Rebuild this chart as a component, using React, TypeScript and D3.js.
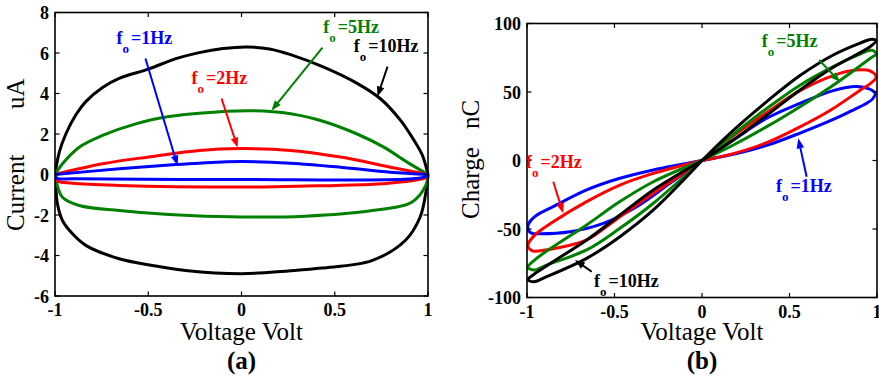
import React from 'react';
import * as d3 from 'd3';

type Pt = [number, number];

const FONT = '"Liberation Serif", "Times New Roman", Times, serif';

// ---- panel (a): current (uA) against voltage (V), upper and lower branches ----
const iv10HzUpper: Pt[] = [[-1, 0], [-0.977, 1.1], [-0.942, 2.0], [-0.888, 2.95], [-0.835, 3.6], [-0.745, 4.3], [-0.656, 4.75], [-0.5, 5.2], [-0.352, 5.72], [-0.227, 6.02], [-0.1, 6.22], [0.03, 6.3], [0.15, 6.2], [0.263, 5.92], [0.441, 5.3], [0.62, 4.5], [0.745, 3.74], [0.853, 2.67], [0.924, 1.7], [0.97, 0.95], [1, 0]];
const iv10HzLower: Pt[] = [[-1, 0], [-0.995, -0.7], [-0.987, -1.45], [-0.96, -2.27], [-0.906, -2.93], [-0.835, -3.5], [-0.656, -4.16], [-0.477, -4.49], [-0.299, -4.74], [0, -4.9], [0.25, -4.76], [0.43, -4.62], [0.699, -4.25], [0.878, -3.26], [0.958, -2.1], [0.99, -0.8], [1, 0]];
const iv5HzUpper: Pt[] = [[-1, 0], [-0.96, 0.53], [-0.87, 1.35], [-0.745, 1.93], [-0.567, 2.5], [-0.388, 2.86], [-0.227, 3.03], [0.05, 3.15], [0.263, 3.0], [0.441, 2.62], [0.62, 2.0], [0.763, 1.35], [0.888, 0.61], [1, 0]];
const iv5HzLower: Pt[] = [[-1, 0], [-0.99, -0.46], [-0.96, -1.12], [-0.87, -1.53], [-0.656, -1.78], [-0.388, -1.98], [0, -2.1], [0.34, -2.06], [0.7, -1.78], [0.913, -1.37], [0.99, -0.5], [1, 0]];
const iv2HzUpper: Pt[] = [[-1, 0], [-0.745, 0.53], [-0.477, 0.89], [-0.227, 1.19], [0, 1.28], [0.263, 1.19], [0.531, 0.86], [0.799, 0.36], [1, 0]];
const iv2HzLower: Pt[] = [[-1, 0], [-0.99, -0.3], [-0.906, -0.43], [-0.656, -0.54], [0, -0.62], [0.3, -0.58], [0.79, -0.43], [0.99, -0.15], [1, 0]];
const iv1HzUpper: Pt[] = [[-1, 0], [-0.656, 0.28], [-0.352, 0.49], [-0.227, 0.56], [0, 0.64], [0.263, 0.56], [0.531, 0.36], [0.799, 0.11], [1, 0]];
const iv1HzLower: Pt[] = [[-1, 0], [-0.99, -0.18], [-0.9, -0.21], [0, -0.25], [0.9, -0.22], [0.99, -0.1], [1, 0]];

// ---- panel (b): charge (nC) against voltage (V), one lobe per quadrant ----
const qv10HzRight: Pt[] = [[0, 0], [0.179, 22], [0.37, 43], [0.56, 62], [0.75, 77], [0.9, 85.5], [0.97, 88.5], [0.995, 87.5], [0.96, 83], [0.75, 68], [0.56, 51.5], [0.37, 33], [0.179, 15], [0, 0]];
const qv10HzLeft: Pt[] = [[0, 0], [-0.278, -21.5], [-0.469, -39.8], [-0.659, -58], [-0.85, -73.8], [-0.96, -83], [-0.995, -87], [-0.96, -88.5], [-0.888, -84.8], [-0.659, -71.4], [-0.469, -55.6], [-0.278, -36.1], [0, 0]];
const qv5HzRight: Pt[] = [[0, 0], [0.179, 19], [0.37, 38], [0.56, 55], [0.75, 68.5], [0.9, 77.5], [0.97, 80.5], [0.995, 78], [0.96, 74.5], [0.75, 55], [0.56, 39.3], [0.37, 24.7], [0.179, 11.3], [0, 0]];
const qv5HzLeft: Pt[] = [[0, 0], [-0.278, -15.5], [-0.469, -30], [-0.659, -47], [-0.85, -62.9], [-0.96, -73], [-0.995, -78], [-0.96, -80], [-0.888, -76.3], [-0.659, -65.3], [-0.469, -49.5], [-0.278, -31.2], [0, 0]];
const qv2HzRight: Pt[] = [[0, 0], [0.179, 18], [0.37, 35], [0.56, 51], [0.75, 62], [0.88, 66], [0.96, 65.5], [0.995, 61], [0.96, 56], [0.9, 51], [0.75, 38], [0.56, 24.5], [0.37, 13], [0.179, 5], [0, 0]];
const qv2HzLeft: Pt[] = [[0, 0], [-0.278, -9.4], [-0.469, -17.9], [-0.659, -30], [-0.85, -44.7], [-0.96, -55], [-0.995, -62], [-0.97, -66], [-0.926, -65.8], [-0.793, -62.9], [-0.659, -58], [-0.469, -41], [-0.278, -24], [0, 0]];
const qv1HzRight: Pt[] = [[0, 0], [0.179, 15], [0.37, 30.8], [0.56, 41.7], [0.75, 51], [0.88, 54], [0.96, 52], [0.99, 49], [0.975, 45], [0.93, 41], [0.85, 36], [0.75, 30], [0.56, 20], [0.37, 11], [0.179, 4.5], [0, 0]];
const qv1HzLeft: Pt[] = [[0, 0], [-0.278, -6.9], [-0.469, -13], [-0.659, -21.5], [-0.85, -33.7], [-0.945, -40], [-0.99, -46], [-0.995, -50], [-0.975, -53], [-0.926, -53.5], [-0.754, -52], [-0.564, -45.9], [-0.373, -33.7], [-0.183, -16.7], [0, 0]];

// ---- ticks ----
const voltTicks = [-1, -0.5, 0, 0.5, 1];
const currentTicks = [-6, -4, -2, 0, 2, 4, 6, 8];
const chargeTicks = [-100, -50, 0, 50, 100];

const BLUE = '#0000ff';
const RED = '#ff0000';
const GREEN = '#008000';
const BLACK = '#000000';

type Series = { label: string; color: string; paths: Pt[][] };

const ivSeries: Series[] = [
  { label: '=10Hz', color: BLACK, paths: [iv10HzUpper, iv10HzLower] },
  { label: '=5Hz', color: GREEN, paths: [iv5HzUpper, iv5HzLower] },
  { label: '=2Hz', color: RED, paths: [iv2HzUpper, iv2HzLower] },
  { label: '=1Hz', color: BLUE, paths: [iv1HzUpper, iv1HzLower] },
];

const qvSeries: Series[] = [
  { label: '=1Hz', color: BLUE, paths: [qv1HzRight, qv1HzLeft] },
  { label: '=2Hz', color: RED, paths: [qv2HzRight, qv2HzLeft] },
  { label: '=5Hz', color: GREEN, paths: [qv5HzRight, qv5HzLeft] },
  { label: '=10Hz', color: BLACK, paths: [qv10HzRight, qv10HzLeft] },
];

// annotation anchors in data units: text position, arrow tail, arrow head
type Note = { text: string; color: string; at: Pt; tail: Pt; head: Pt };

const ivNotes: Note[] = [
  { text: '=1Hz', color: BLUE, at: [-0.67, 6.42], tail: [-0.515, 5.73], head: [-0.343, 0.44] },
  { text: '=2Hz', color: RED, at: [-0.268, 4.48], tail: [-0.107, 3.75], head: [-0.021, 1.33] },
  { text: '=5Hz', color: GREEN, at: [0.438, 6.98], tail: [0.434, 6.27], head: [0.161, 3.16] },
  { text: '=10Hz', color: BLACK, at: [0.602, 6.04], tail: [0.783, 5.33], head: [0.729, 3.85] },
];

const qvNotes: Note[] = [
  { text: '=5Hz', color: GREEN, at: [0.341, 82.5], tail: [0.669, 73.4], head: [0.789, 57.3] },
  { text: '=1Hz', color: BLUE, at: [0.423, -22.8], tail: [0.598, -11.8], head: [0.55, 16.2] },
  { text: '=2Hz', color: RED, at: [-1.006, -5.7], tail: [-0.85, -15.5], head: [-0.793, -38.5] },
  { text: '=10Hz', color: BLACK, at: [-0.617, -92.1], tail: [-0.63, -81.2], head: [-0.726, -72.6] },
];

type Scale = d3.ScaleLinear<number, number>;

function Arrow({ x1, y1, x2, y2, color }: { x1: number; y1: number; x2: number; y2: number; color: string }) {
  const dx = x2 - x1;
  const dy = y2 - y1;
  const len = Math.hypot(dx, dy);
  const ux = dx / len;
  const uy = dy / len;
  const hl = 10;
  const hw = 3.8;
  const bx = x2 - ux * hl;
  const by = y2 - uy * hl;
  const pts = `${x2},${y2} ${bx - uy * hw},${by + ux * hw} ${bx + uy * hw},${by - ux * hw}`;
  return (
    <g>
      <line x1={x1} y1={y1} x2={bx + ux} y2={by + uy} stroke={color} strokeWidth={2} />
      <polygon points={pts} fill={color} />
    </g>
  );
}

function FLabel({ x, y, text, color }: { x: number; y: number; text: string; color: string }) {
  return (
    <text x={x} y={y} fill={color} fontFamily={FONT} fontWeight="bold" fontSize={18}>
      f
      <tspan dy={9} fontSize={13}>o</tspan>
      <tspan dy={-9} dx={2}>{text}</tspan>
    </text>
  );
}

function Panel({
  x, y, xTicks, yTicks, series, notes, yTitle, yUnit, yTitlePos, panelTag,
}: {
  x: Scale; y: Scale; xTicks: number[]; yTicks: number[]; series: Series[]; notes: Note[];
  yTitle: string; yUnit: string; yTitlePos: { bx: number; titleY: number; unitY: number }; panelTag: string;
}) {
  const [x0, x1] = x.range();
  const [y0, y1] = y.range();
  const left = Math.min(x0, x1);
  const right = Math.max(x0, x1);
  const top = Math.min(y0, y1);
  const bottom = Math.max(y0, y1);
  const cx = (left + right) / 2;
  const tk = 4.5;
  const line = d3.line<Pt>().x((d) => x(d[0])).y((d) => y(d[1])).curve(d3.curveCatmullRom.alpha(0.5));
  const clipId = `clip-${panelTag.replace(/[()]/g, '')}`;

  return (
    <g>
      <defs>
        <clipPath id={clipId}>
          <rect x={left} y={top - 2} width={right - left + 2} height={bottom - top + 4} />
        </clipPath>
      </defs>
      <g clipPath={`url(#${clipId})`}>
        {series.map((s) =>
          s.paths.map((p, i) => (
            <path key={s.label + i} d={line(p) || ''} fill="none" stroke={s.color} strokeWidth={3} strokeLinejoin="round" />
          )),
        )}
      </g>
      {/* frame and mirrored inward ticks */}
      <rect x={left} y={top} width={right - left} height={bottom - top} fill="none" stroke="#000" strokeWidth={1.6} />
      {xTicks.map((t) => (
        <g key={'xt' + t}>
          <line x1={x(t)} x2={x(t)} y1={bottom} y2={bottom - tk} stroke="#000" strokeWidth={1.2} />
          <line x1={x(t)} x2={x(t)} y1={top} y2={top + tk} stroke="#000" strokeWidth={1.2} />
          <text x={x(t)} y={bottom + 20} textAnchor="middle" fontFamily={FONT} fontWeight="bold" fontSize={18}>
            {String(t)}
          </text>
        </g>
      ))}
      {yTicks.map((t) => (
        <g key={'yt' + t}>
          <line x1={left} x2={left + tk} y1={y(t)} y2={y(t)} stroke="#000" strokeWidth={1.2} />
          <line x1={right} x2={right - tk} y1={y(t)} y2={y(t)} stroke="#000" strokeWidth={1.2} />
          <text x={left - 6} y={y(t) + 6.5} textAnchor="end" fontFamily={FONT} fontWeight="bold" fontSize={18}>
            {String(t)}
          </text>
        </g>
      ))}
      {notes.map((n) => (
        <g key={'n' + n.text}>
          <Arrow x1={x(n.tail[0])} y1={y(n.tail[1])} x2={x(n.head[0])} y2={y(n.head[1])} color={n.color} />
          <FLabel x={x(n.at[0])} y={y(n.at[1])} text={n.text} color={n.color} />
        </g>
      ))}
      <text x={cx} y={340} textAnchor="middle" fontFamily={FONT} fontSize={25}>
        Voltage Volt
      </text>
      <text
        transform={`translate(${yTitlePos.bx},${yTitlePos.titleY}) rotate(-90)`}
        fontFamily={FONT}
        fontSize={25}
      >
        {yTitle}
      </text>
      <text
        transform={`translate(${yTitlePos.bx},${yTitlePos.unitY}) rotate(-90)`}
        fontFamily={FONT}
        fontSize={25}
      >
        {yUnit}
      </text>
      <text x={cx} y={369} textAnchor="middle" fontFamily={FONT} fontWeight="bold" fontSize={25}>
        {panelTag}
      </text>
    </g>
  );
}

export default function App() {
  const xA = d3.scaleLinear().domain([-1, 1]).range([55, 428]);
  const yA = d3.scaleLinear().domain([-6, 8]).range([296, 12.5]);
  const xB = d3.scaleLinear().domain([-1, 1]).range([527, 877]);
  const yB = d3.scaleLinear().domain([-100, 100]).range([297.5, 23.5]);

  return (
    <svg
      width={879}
      height={378}
      viewBox="0 0 879 378"
      style={{ position: 'absolute', left: 0, top: 0, background: '#fff' }}
    >
      <rect x={0} y={0} width={879} height={378} fill="#fff" />
      <Panel
        x={xA}
        y={yA}
        xTicks={voltTicks}
        yTicks={currentTicks}
        series={ivSeries}
        notes={ivNotes}
        yTitle="Current"
        yUnit="uA"
        yTitlePos={{ bx: 24, titleY: 231, unitY: 109 }}
        panelTag="(a)"
      />
      <Panel
        x={xB}
        y={yB}
        xTicks={voltTicks}
        yTicks={chargeTicks}
        series={qvSeries}
        notes={qvNotes}
        yTitle="Charge"
        yUnit="nC"
        yTitlePos={{ bx: 478.5, titleY: 219, unitY: 129 }}
        panelTag="(b)"
      />
    </svg>
  );
}
